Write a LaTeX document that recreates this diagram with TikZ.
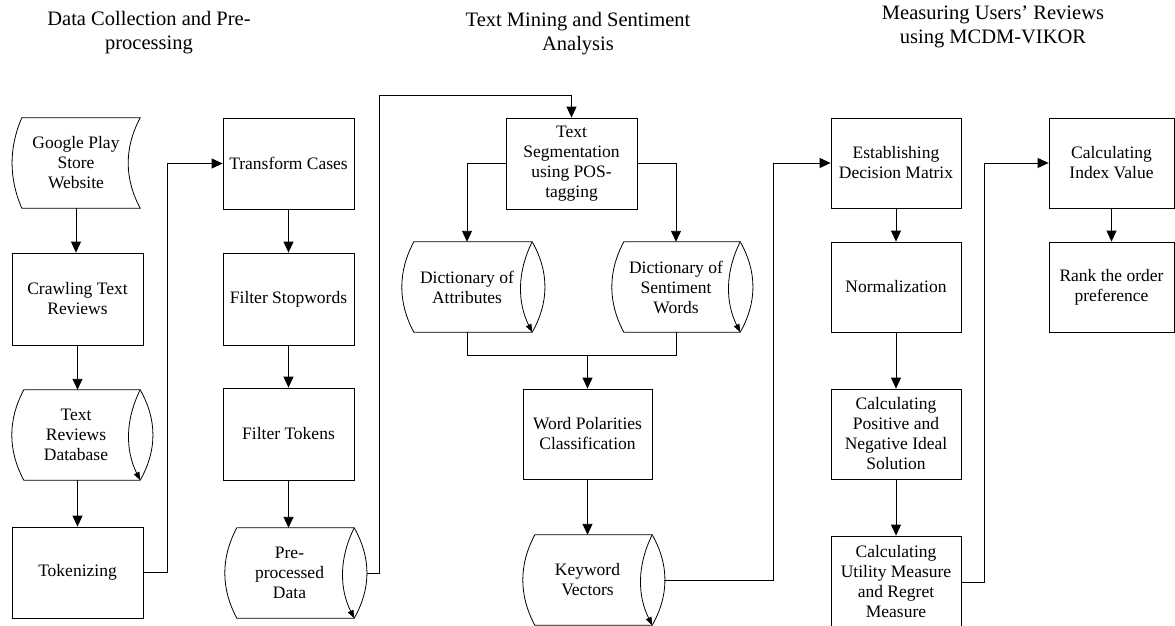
\documentclass[tikz,border=0pt]{standalone}
\usepackage{fontspec}
\setmainfont{Liberation Serif}
\usetikzlibrary{arrows.meta,calc}
\newcommand\boxfont{\fontsize{17.5}{20}\selectfont}
\newcommand\headfont{\fontsize{20.5}{24}\selectfont}
\newcommand\storedshape[1]{%
  \draw[outl] ($(#1.north west)+(10,0)$) -- (#1.north east)
    .. controls ($(#1.north east)+(-16,30)$) and ($(#1.south east)+(-16,-30)$) .. (#1.south east)
    -- ($(#1.south west)+(10,0)$)
    .. controls ($(#1.south west)+(-3,-30)$) and ($(#1.north west)+(-3,30)$) .. cycle;}
\newcommand\diskshape[1]{%
  \draw[outl] ($(#1.north west)+(12,0)$) -- (#1.north east)
    .. controls ($(#1.north east)+(17,30)$) and ($(#1.south east)+(17,-30)$) .. (#1.south east)
    -- ($(#1.south west)+(12,0)$)
    .. controls ($(#1.south west)+(-4,-30)$) and ($(#1.north west)+(-4,30)$) .. cycle;
  \draw[outl,-{Triangle[length=8pt,width=6pt]}] (#1.north east)
    .. controls ($(#1.north east)+(-15,30)$) and ($(#1.south east)+(-15,-30)$) .. (#1.south east);}
\begin{document}
\begin{tikzpicture}[x=1pt,y=-1pt,
  outl/.style={line width=0.8pt},
  procbox/.style={draw,line width=0.8pt,align=center,inner sep=2pt,font=\boxfont,
     minimum width=131pt,minimum height=91pt},
  shapenode/.style={draw=none,align=center,inner sep=2pt,font=\boxfont,
     minimum width=129pt,minimum height=90pt},
  arr/.style={line width=0.9pt,-{Triangle[length=11pt,width=10pt]}},
  conn/.style={line width=0.9pt},
  head/.style={align=center,font=\headfont,inner sep=0pt}]
\useasboundingbox (0,0) rectangle (1175,626);

% titles
\node[head] (h1) at (149,33) {Data Collection and Pre-\\processing};
\node[head] (h2) at (578,34) {Text Mining and Sentiment\\Analysis};
\node[head] (h3) at (993,27) {Measuring Users’ Reviews\\using MCDM-VIKOR};

% column 1
\node[shapenode,minimum width=128pt] (gp) at (76,163) {Google Play\\Store\\Website};
\storedshape{gp}
\node[procbox,minimum height=92pt] (crawl) at (77.5,299) {Crawling Text\\Reviews};
\node[shapenode,minimum width=128pt] (trdb) at (76,435) {Text\\Reviews\\Database};
\diskshape{trdb}
\node[procbox] (tok) at (77.5,572.5) {Tokenizing};

% column 2
\node[procbox] (tc) at (288.5,163.5) {Transform Cases};
\node[procbox,minimum height=92pt] (fs) at (288.5,299) {Filter Stopwords};
\node[procbox,minimum height=92pt] (ft) at (288.5,434) {Filter Tokens};
\node[shapenode] (ppd) at (289.5,573) {Pre-\\processed\\Data};
\diskshape{ppd}

% column 3
\node[procbox] (ts) at (571.5,163.5) {Text\\Segmentation\\using POS-\\tagging};
\node[shapenode,minimum width=130pt] (da) at (467,287) {Dictionary of\\Attributes};
\diskshape{da}
\node[shapenode,minimum width=128pt] (dsw) at (676,287) {Dictionary of\\Sentiment\\Words};
\diskshape{dsw}
\node[procbox,minimum width=129pt,minimum height=90pt] (wp) at (587.5,434) {Word Polarities\\Classification};
\node[shapenode] (kv) at (587.5,580) {Keyword\\Vectors};
\diskshape{kv}

% column 4
\node[procbox,minimum width=130pt,minimum height=90pt] (edm) at (896,163) {Establishing\\Decision Matrix};
\node[procbox,minimum width=130pt,minimum height=90pt] (norm) at (896,287) {Normalization};
\node[procbox,minimum width=130pt,minimum height=90pt] (cpn) at (896,434) {Calculating\\Positive and\\Negative Ideal\\Solution};
\node[procbox,minimum width=130pt,minimum height=92pt] (cum) at (896,582) {Calculating\\Utility Measure\\and Regret\\Measure};

% column 5
\node[procbox,minimum width=125pt,minimum height=90pt] (civ) at (1111.5,163) {Calculating\\Index Value};
\node[procbox,minimum width=125pt,minimum height=90pt] (rank) at (1111.5,287) {Rank the order\\preference};

% connectors column 1
\draw[arr] (gp.south) -- (gp.south |- crawl.north);
\draw[arr] (crawl.south) -- (crawl.south |- trdb.north);
\draw[arr] (crawl.south |- trdb.south) -- (tok.north);
\draw[arr] (tok.east) -- ++(24,0) |- (tc.west);

% column 2
\draw[arr] (tc.south) -- (fs.north);
\draw[arr] (fs.south) -- (ft.north);
\draw[arr] (ft.south) -- (ft.south |- ppd.north);
\coordinate (ppdout) at ($(ppd.east)+(13,0)$);
\draw[arr] (ppdout) -- ++(12,0) |- ($(ts.north)+(0,-22)$) -- (ts.north);

% column 3
\draw[arr] (ts.west) -| (da.north);
\draw[arr] (ts.east) -| (dsw.north);
\coordinate (merge) at ($(da.south)+(0,23)$);
\draw[conn] (da.south) -- (merge) -| (dsw.south);
\draw[arr] (merge -| wp.north) -- (wp.north);
\draw[arr] (wp.south) -- (kv.north);
\coordinate (kvout) at ($(kv.east)+(12,0)$);
\draw[arr] (kvout) -- ++(109,0) |- (edm.west);

% column 4
\draw[arr] (edm.south) -- (norm.north);
\draw[arr] (norm.south) -- (cpn.north);
\draw[arr] (cpn.south) -- (cum.north);
\draw[arr] (cum.east) -- ++(23,0) |- (civ.west);

% column 5
\draw[arr] (civ.south) -- (rank.north);
\end{tikzpicture}
\end{document}
